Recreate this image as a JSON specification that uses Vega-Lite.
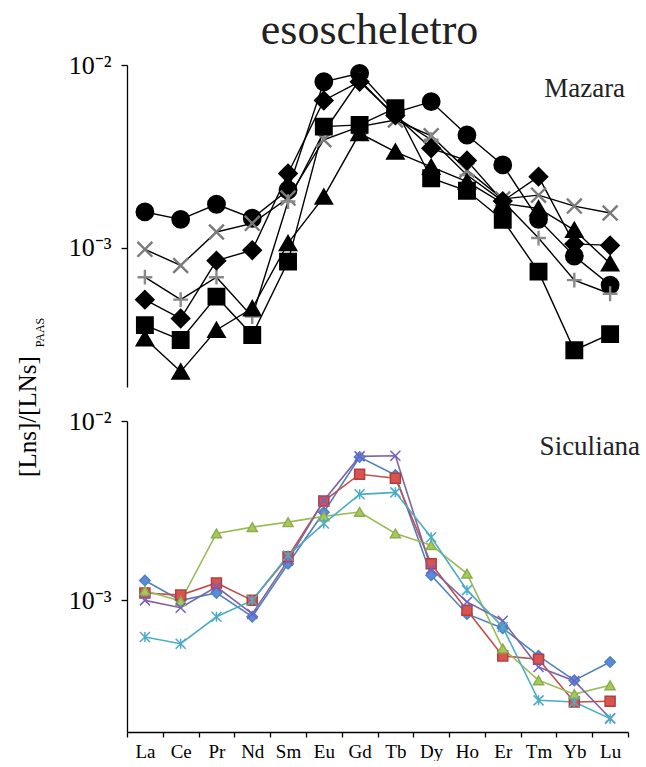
{
  "$schema": "https://vega.github.io/schema/vega-lite/v6.json",
  "background": "white",
  "padding": {"left": 15, "top": 9, "right": 0, "bottom": 0},
  "title": {"text": "esoscheletro", "font": "Liberation Serif", "fontSize": 44, "fontWeight": "normal", "color": "#222222", "anchor": "middle", "offset": -1, "dx": 42},
  "config": {
    "view": {"stroke": null},
    "font": "Liberation Serif",
    "axis": {"grid": false, "domainColor": "black", "tickColor": "black", "labelColor": "black", "titleColor": "black", "labelFont": "Liberation Serif", "titleFont": "Liberation Serif", "titleFontWeight": "normal", "domainWidth": 1.3, "tickWidth": 1.3}
  },
  "datasets": {
    "mazara": [
      {"el": "La", "s": "circle", "v": 0.00157}, {"el": "Ce", "s": "circle", "v": 0.00143}, {"el": "Pr", "s": "circle", "v": 0.00173}, {"el": "Nd", "s": "circle", "v": 0.00145}, {"el": "Sm", "s": "circle", "v": 0.00207}, {"el": "Eu", "s": "circle", "v": 0.0081}, {"el": "Gd", "s": "circle", "v": 0.009}, {"el": "Tb", "s": "circle", "v": 0.0055}, {"el": "Dy", "s": "circle", "v": 0.0063}, {"el": "Ho", "s": "circle", "v": 0.00414}, {"el": "Er", "s": "circle", "v": 0.00284}, {"el": "Tm", "s": "circle", "v": 0.00143}, {"el": "Yb", "s": "circle", "v": 0.0009}, {"el": "Lu", "s": "circle", "v": 0.000625},
      {"el": "La", "s": "x", "v": 0.00098}, {"el": "Ce", "s": "x", "v": 0.0008}, {"el": "Pr", "s": "x", "v": 0.00122}, {"el": "Nd", "s": "x", "v": 0.00136}, {"el": "Sm", "s": "x", "v": 0.00187}, {"el": "Eu", "s": "x", "v": 0.0039}, {"el": "Gd", "s": "x", "v": 0.0046}, {"el": "Tb", "s": "x", "v": 0.005}, {"el": "Dy", "s": "x", "v": 0.0041}, {"el": "Ho", "s": "x", "v": 0.00266}, {"el": "Er", "s": "x", "v": 0.00185}, {"el": "Tm", "s": "x", "v": 0.00194}, {"el": "Yb", "s": "x", "v": 0.00169}, {"el": "Lu", "s": "x", "v": 0.00155},
      {"el": "La", "s": "plus", "v": 0.00069}, {"el": "Ce", "s": "plus", "v": 0.00052}, {"el": "Pr", "s": "plus", "v": 0.00069}, {"el": "Nd", "s": "plus", "v": 0.00042}, {"el": "Sm", "s": "plus", "v": 0.00179}, {"el": "Eu", "s": "plus", "v": 0.0043}, {"el": "Gd", "s": "plus", "v": 0.0083}, {"el": "Tb", "s": "plus", "v": 0.0052}, {"el": "Dy", "s": "plus", "v": 0.0039}, {"el": "Ho", "s": "plus", "v": 0.0025}, {"el": "Er", "s": "plus", "v": 0.0018}, {"el": "Tm", "s": "plus", "v": 0.00113}, {"el": "Yb", "s": "plus", "v": 0.000665}, {"el": "Lu", "s": "plus", "v": 0.00056},
      {"el": "La", "s": "diamond", "v": 0.00052}, {"el": "Ce", "s": "diamond", "v": 0.00041}, {"el": "Pr", "s": "diamond", "v": 0.00085}, {"el": "Nd", "s": "diamond", "v": 0.00097}, {"el": "Sm", "s": "diamond", "v": 0.00255}, {"el": "Eu", "s": "diamond", "v": 0.0064}, {"el": "Gd", "s": "diamond", "v": 0.0081}, {"el": "Tb", "s": "diamond", "v": 0.0053}, {"el": "Dy", "s": "diamond", "v": 0.0035}, {"el": "Ho", "s": "diamond", "v": 0.003}, {"el": "Er", "s": "diamond", "v": 0.0018}, {"el": "Tm", "s": "diamond", "v": 0.00245}, {"el": "Yb", "s": "diamond", "v": 0.00105}, {"el": "Lu", "s": "diamond", "v": 0.00103},
      {"el": "La", "s": "square", "v": 0.000377}, {"el": "Ce", "s": "square", "v": 0.000313}, {"el": "Pr", "s": "square", "v": 0.00054}, {"el": "Nd", "s": "square", "v": 0.000333}, {"el": "Sm", "s": "square", "v": 0.00084}, {"el": "Eu", "s": "square", "v": 0.0046}, {"el": "Gd", "s": "square", "v": 0.0047}, {"el": "Tb", "s": "square", "v": 0.0058}, {"el": "Dy", "s": "square", "v": 0.0024}, {"el": "Ho", "s": "square", "v": 0.00205}, {"el": "Er", "s": "square", "v": 0.00142}, {"el": "Tm", "s": "square", "v": 0.00074}, {"el": "Yb", "s": "square", "v": 0.000275}, {"el": "Lu", "s": "square", "v": 0.000337},
      {"el": "La", "s": "triangle", "v": 0.000319}, {"el": "Ce", "s": "triangle", "v": 0.00021}, {"el": "Pr", "s": "triangle", "v": 0.000355}, {"el": "Nd", "s": "triangle", "v": 0.000466}, {"el": "Sm", "s": "triangle", "v": 0.00106}, {"el": "Eu", "s": "triangle", "v": 0.0019}, {"el": "Gd", "s": "triangle", "v": 0.00423}, {"el": "Tb", "s": "triangle", "v": 0.00335}, {"el": "Dy", "s": "triangle", "v": 0.00277}, {"el": "Ho", "s": "triangle", "v": 0.0023}, {"el": "Er", "s": "triangle", "v": 0.00175}, {"el": "Tm", "s": "triangle", "v": 0.00164}, {"el": "Yb", "s": "triangle", "v": 0.00125}, {"el": "Lu", "s": "triangle", "v": 0.00082}
    ],
    "siculiana": [
      {"el": "La", "s": "blue", "v": 0.00129}, {"el": "Ce", "s": "blue", "v": 0.001}, {"el": "Pr", "s": "blue", "v": 0.0011}, {"el": "Nd", "s": "blue", "v": 0.00081}, {"el": "Sm", "s": "blue", "v": 0.0016}, {"el": "Eu", "s": "blue", "v": 0.0031}, {"el": "Gd", "s": "blue", "v": 0.0063}, {"el": "Tb", "s": "blue", "v": 0.005}, {"el": "Dy", "s": "blue", "v": 0.00138}, {"el": "Ho", "s": "blue", "v": 0.00084}, {"el": "Er", "s": "blue", "v": 0.0007}, {"el": "Tm", "s": "blue", "v": 0.00049}, {"el": "Yb", "s": "blue", "v": 0.000358}, {"el": "Lu", "s": "blue", "v": 0.000453},
      {"el": "La", "s": "red", "v": 0.0011}, {"el": "Ce", "s": "red", "v": 0.00107}, {"el": "Pr", "s": "red", "v": 0.00125}, {"el": "Nd", "s": "red", "v": 0.001}, {"el": "Sm", "s": "red", "v": 0.00175}, {"el": "Eu", "s": "red", "v": 0.00358}, {"el": "Gd", "s": "red", "v": 0.00505}, {"el": "Tb", "s": "red", "v": 0.0048}, {"el": "Dy", "s": "red", "v": 0.0016}, {"el": "Ho", "s": "red", "v": 0.00088}, {"el": "Er", "s": "red", "v": 0.00049}, {"el": "Tm", "s": "red", "v": 0.00047}, {"el": "Yb", "s": "red", "v": 0.000271}, {"el": "Lu", "s": "red", "v": 0.000274},
      {"el": "La", "s": "green", "v": 0.00113}, {"el": "Ce", "s": "green", "v": 0.00099}, {"el": "Pr", "s": "green", "v": 0.00236}, {"el": "Nd", "s": "green", "v": 0.00256}, {"el": "Sm", "s": "green", "v": 0.00273}, {"el": "Eu", "s": "green", "v": 0.00294}, {"el": "Gd", "s": "green", "v": 0.00311}, {"el": "Tb", "s": "green", "v": 0.00236}, {"el": "Dy", "s": "green", "v": 0.00203}, {"el": "Ho", "s": "green", "v": 0.00141}, {"el": "Er", "s": "green", "v": 0.00054}, {"el": "Tm", "s": "green", "v": 0.000358}, {"el": "Yb", "s": "green", "v": 0.0003}, {"el": "Lu", "s": "green", "v": 0.000336},
      {"el": "La", "s": "purple", "v": 0.001}, {"el": "Ce", "s": "purple", "v": 0.00091}, {"el": "Pr", "s": "purple", "v": 0.00119}, {"el": "Nd", "s": "purple", "v": 0.00084}, {"el": "Sm", "s": "purple", "v": 0.00167}, {"el": "Eu", "s": "purple", "v": 0.0036}, {"el": "Gd", "s": "purple", "v": 0.00635}, {"el": "Tb", "s": "purple", "v": 0.0064}, {"el": "Dy", "s": "purple", "v": 0.0015}, {"el": "Ho", "s": "purple", "v": 0.00098}, {"el": "Er", "s": "purple", "v": 0.00077}, {"el": "Tm", "s": "purple", "v": 0.000425}, {"el": "Yb", "s": "purple", "v": 0.000355}, {"el": "Lu", "s": "purple", "v": 0.00022},
      {"el": "La", "s": "cyan", "v": 0.000624}, {"el": "Ce", "s": "cyan", "v": 0.000573}, {"el": "Pr", "s": "cyan", "v": 0.00081}, {"el": "Nd", "s": "cyan", "v": 0.001}, {"el": "Sm", "s": "cyan", "v": 0.00178}, {"el": "Eu", "s": "cyan", "v": 0.00268}, {"el": "Gd", "s": "cyan", "v": 0.0039}, {"el": "Tb", "s": "cyan", "v": 0.004}, {"el": "Dy", "s": "cyan", "v": 0.00225}, {"el": "Ho", "s": "cyan", "v": 0.00114}, {"el": "Er", "s": "cyan", "v": 0.00071}, {"el": "Tm", "s": "cyan", "v": 0.000277}, {"el": "Yb", "s": "cyan", "v": 0.000271}, {"el": "Lu", "s": "cyan", "v": 0.000219}
    ]
  },
  "spacing": 34,
  "bounds": "flush",
  "resolve": {"scale": {"y": "independent", "shape": "independent", "fill": "independent", "stroke": "independent", "size": "independent", "color": "independent"}},
  "vconcat": [
    {
      "width": 501,
      "height": 322,
      "layer": [
        {
          "data": {"name": "mazara"},
          "mark": {"type": "line", "color": "black", "strokeWidth": 1.4},
          "encoding": {
            "x": {"field": "el", "type": "nominal", "sort": null, "scale": {"type": "band", "paddingInner": 0, "paddingOuter": 0, "domain": ["La", "Ce", "Pr", "Nd", "Sm", "Eu", "Gd", "Tb", "Dy", "Ho", "Er", "Tm", "Yb", "Lu"]}, "axis": null},
            "y": {"field": "v", "type": "quantitative", "scale": {"type": "log", "domain": [0.000173, 0.01], "nice": false},
              "axis": {"values": [0.001, 0.01], "labelExpr": "datum.value > 0.005 ? '10⁻²' : '10⁻³'", "labelFontSize": 26, "labelPadding": 10, "tickSize": 6,
                "title": "PAAS", "titleFontSize": 12, "titleAngle": 270, "titleX": -84, "titleY": 267, "titleAlign": "center", "titleBaseline": "alphabetic"}},
            "detail": {"field": "s"}
          }
        },
        {
          "data": {"name": "mazara"},
          "mark": {"type": "point", "opacity": 1, "strokeWidth": 2.4},
          "encoding": {
            "x": {"field": "el", "type": "nominal", "sort": null},
            "y": {"field": "v", "type": "quantitative"},
            "shape": {"field": "s", "legend": null, "scale": {"domain": ["circle", "x", "plus", "diamond", "square", "triangle"], "range": ["circle", "M-1,-1L1,1M1,-1L-1,1", "M-1,0L1,0M0,-1L0,1", "diamond", "square", "triangle-up"]}},
            "fill": {"field": "s", "legend": null, "scale": {"domain": ["circle", "x", "plus", "diamond", "square", "triangle"], "range": ["black", "transparent", "transparent", "black", "black", "black"]}},
            "stroke": {"field": "s", "legend": null, "scale": {"domain": ["circle", "x", "plus", "diamond", "square", "triangle"], "range": ["black", "#7a7a7a", "#8a8a8a", "black", "black", "black"]}},
            "size": {"field": "s", "legend": null, "scale": {"type": "ordinal", "domain": ["circle", "x", "plus", "diamond", "square", "triangle"], "range": [270, 220, 220, 290, 240, 250]}}
          }
        },
        {
          "data": {"values": [{}]},
          "mark": {"type": "text", "text": "Mazara", "align": "right", "baseline": "alphabetic", "fontSize": 27, "font": "Liberation Serif", "color": "#222222", "dx": 15},
          "encoding": {"x": {"datum": "Lu"}, "y": {"datum": 0.0067}}
        }
      ]
    },
    {
      "width": 501,
      "height": 311,
      "layer": [
        {
          "data": {"name": "siculiana"},
          "mark": {"type": "line", "strokeWidth": 1.6},
          "encoding": {
            "x": {"field": "el", "type": "nominal", "sort": null, "scale": {"type": "band", "paddingInner": 0, "paddingOuter": 0, "domain": ["La", "Ce", "Pr", "Nd", "Sm", "Eu", "Gd", "Tb", "Dy", "Ho", "Er", "Tm", "Yb", "Lu"]},
              "axis": {"title": null, "tickBand": "extent", "labelAngle": 0, "labelFontSize": 19, "tickSize": 5, "labelPadding": 5}},
            "y": {"field": "v", "type": "quantitative", "scale": {"type": "log", "domain": [0.0001845, 0.01], "nice": false},
              "axis": {"values": [0.001, 0.01], "labelExpr": "datum.value > 0.005 ? '10⁻²' : '10⁻³'", "labelFontSize": 26, "labelPadding": 10, "tickSize": 6,
                "title": "[Lns]/[LNs]", "titleFontSize": 25, "titleAngle": 270, "titleX": -92, "titleY": -5, "titleAlign": "center", "titleBaseline": "alphabetic"}},
            "color": {"field": "s", "legend": null, "scale": {"domain": ["blue", "red", "green", "purple", "cyan"], "range": ["#4F81BD", "#C0504D", "#9BBB59", "#8064A2", "#4BACC6"]}}
          }
        },
        {
          "data": {"name": "siculiana"},
          "mark": {"type": "point", "opacity": 1, "strokeWidth": 1.5},
          "encoding": {
            "x": {"field": "el", "type": "nominal", "sort": null},
            "y": {"field": "v", "type": "quantitative"},
            "shape": {"field": "s", "legend": null, "scale": {"domain": ["blue", "red", "green", "purple", "cyan"], "range": ["diamond", "square", "triangle-up", "M-1,-1L1,1M1,-1L-1,1", "M-1,-1L1,1M1,-1L-1,1M0,-1L0,1"]}},
            "fill": {"field": "s", "legend": null, "scale": {"domain": ["blue", "red", "green", "purple", "cyan"], "range": ["#5B8BD8", "#D9534F", "#A6C95A", "transparent", "transparent"]}},
            "stroke": {"field": "s", "legend": null, "scale": {"domain": ["blue", "red", "green", "purple", "cyan"], "range": ["#4F81BD", "#B0403D", "#8EAE4C", "#7060C8", "#4BACC6"]}},
            "size": {"field": "s", "legend": null, "scale": {"type": "ordinal", "domain": ["blue", "red", "green", "purple", "cyan"], "range": [110, 100, 100, 100, 100]}}
          }
        },
        {
          "data": {"values": [{}]},
          "mark": {"type": "text", "text": "Siculiana", "align": "right", "baseline": "alphabetic", "fontSize": 27, "font": "Liberation Serif", "color": "#222222", "dx": 30},
          "encoding": {"x": {"datum": "Lu"}, "y": {"datum": 0.00644}}
        }
      ]
    }
  ]
}
